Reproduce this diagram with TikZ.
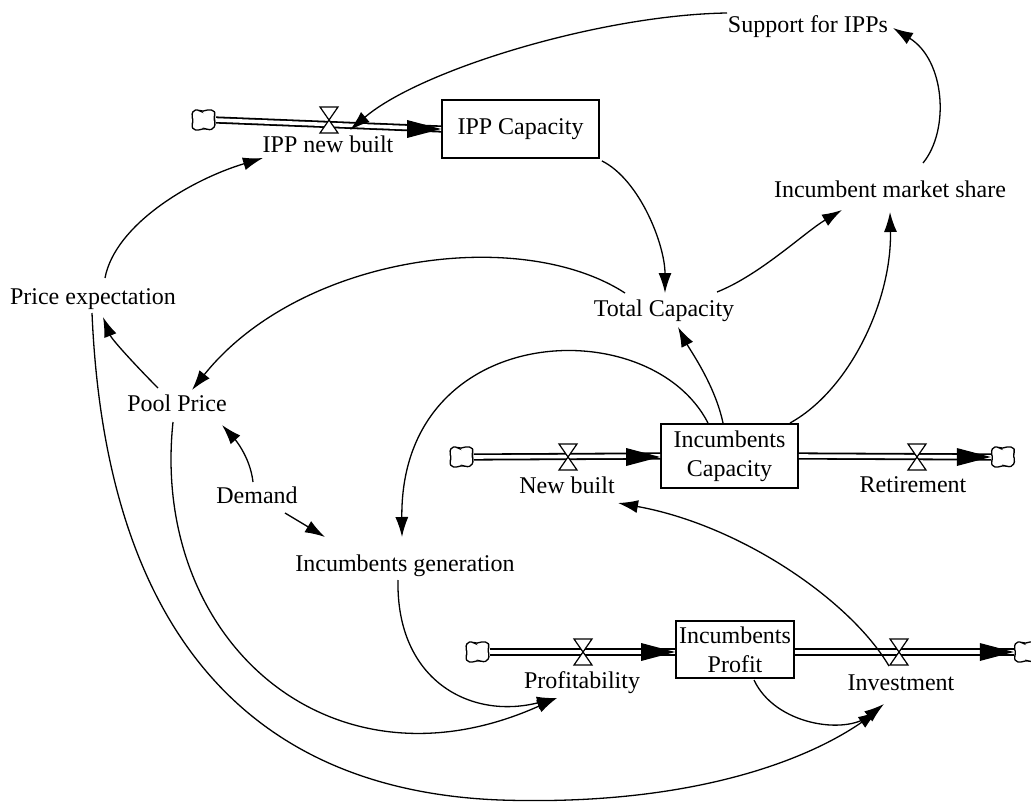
\documentclass[tikz,border=0pt]{standalone}
\usepackage{fontspec}
\setmainfont{Liberation Serif}
\usetikzlibrary{arrows.meta}

\begin{document}
\begin{tikzpicture}[x=1pt,y=-1pt,
  lbl/.style={font=\fontsize{24}{28}\selectfont, inner sep=1pt, text height=17pt, text depth=5pt},
  stock/.style={draw, line width=1.8pt, fill=white, inner sep=2pt, align=center,
                font=\fontsize{24}{29}\selectfont},
  conn/.style={line width=1.3pt, -{Latex[length=20pt,width=13pt]}},
  pipe/.style={double, line width=1.8pt, double distance=3.6pt},
  endpt/.style={inner sep=0pt, minimum width=24pt, minimum height=22pt},
  sourcecloud/.pic={
    \draw[line width=1.3pt, fill=white, rounded corners=2pt]
      (-10,-10) -- (-4,-10) -- (-2,-8) -- (2,-10) -- (10,-10) -- (12,-6) -- (10,-2)
      -- (12,3) -- (10,9) -- (4,10) -- (1,8) -- (-3,10) -- (-10,10) -- (-12,5)
      -- (-10,1) -- (-12,-4) -- cycle;
  },
  valve/.pic={
    \draw[line width=1.2pt, fill=white] (-9,-13) -- (9,-13) -- (0,0) -- cycle;
    \draw[line width=1.2pt, fill=white] (-9,13) -- (9,13) -- (0,0) -- cycle;
  },
  flowhead/.pic={
    \fill (0,0) -- (-34,-9) -- (-34,9) -- cycle;
  }
]
\fill[white] (0,0) rectangle (1031,805);
\useasboundingbox (0,0) rectangle (1031,805);
\clip (0,0) rectangle (1031,805);

% stocks
\node[stock, minimum width=157pt, minimum height=58pt] (ippbox) at (520.5,129) {IPP Capacity};
\node[stock, minimum width=137pt, minimum height=64pt] (inccap) at (729.5,456) {Incumbents\\Capacity};
\node[stock, minimum width=118pt, minimum height=57pt] (profit) at (735,649.5) {Incumbents\\Profit};

% sources and sinks
\node[endpt] (srcA) at (203.5,120) {};
\node[endpt] (srcB) at (461.5,457) {};
\node[endpt] (sinkB) at (1003,457) {};
\node[endpt] (srcC) at (477.5,652) {};
\node[endpt] (sinkC) at (1026,652) {};

% pipes
\draw[pipe] (srcA.east) -- (ippbox.west);
\draw[pipe] (srcB.east) -- (inccap.west);
\draw[pipe] (inccap.east) -- (sinkB.west);
\draw[pipe] (srcC.east) -- (profit.west |- srcC.east);
\draw[pipe] (profit.east |- sinkC.west) -- (sinkC.west);

\pic at (ippbox.west) {flowhead};
\pic at (inccap.west |- srcB) {flowhead};
\pic at (sinkB.west) {flowhead};
\pic at (profit.west |- srcC) {flowhead};
\pic at (sinkC.west) {flowhead};

\pic at (329,120) {valve};
\pic at (568,457) {valve};
\pic at (917,457) {valve};
\pic at (583,652) {valve};
\pic at (899,652) {valve};

\pic at (srcA) {sourcecloud};
\pic at (srcB) {sourcecloud};
\pic at (sinkB) {sourcecloud};
\pic at (srcC) {sourcecloud};
\pic at (sinkC) {sourcecloud};

% variables
\node[lbl] (support) at (808,27) {Support for IPPs};
\node[lbl] (marketshare) at (890,192) {Incumbent market share};
\node[lbl] (priceexp) at (93,298) {Price expectation};
\node[lbl] (totalcap) at (664,310) {Total Capacity};
\node[lbl] (poolprice) at (177,405) {Pool Price};
\node[lbl] (demand) at (257,497) {Demand};
\node[lbl] (incgen) at (405,565) {Incumbents generation};
\node[lbl] (ippnew) at (328,147) {IPP new built};
\node[lbl] (newbuilt) at (567,487) {New built};
\node[lbl] (retirement) at (913,486) {Retirement};
\node[lbl] (profitability) at (582,682) {Profitability};
\node[lbl] (investment) at (901,684) {Investment};

\coordinate (lowpass) at (500,800);

% causal links
\draw[conn] ([shift={(-81,-14)}]support.center) .. controls (600,15) and (420,70) .. ([shift={(22,-17)}]ippnew.center);
\draw[conn] ([shift={(33,-29)}]marketshare.center) .. controls (950,130) and (945,60) .. ([shift={(85,1)}]support.center);
\draw[conn] ([shift={(2,2)}]ippbox.south east) .. controls (640,180) and (665,245) .. ([shift={(1,-17)}]totalcap.center);
\draw[conn] ([shift={(53,-18)}]totalcap.center) .. controls (760,275) and (805,232) .. ([shift={(-48,18)}]marketshare.center);
\draw[conn] ([shift={(60.5,-33)}]inccap.center) .. controls (850,390) and (892,300) .. ([shift={(0,20)}]marketshare.center);
\draw[conn] ([shift={(-6.5,-33)}]inccap.center) .. controls (715,385) and (690,350) .. ([shift={(14,17)}]totalcap.center);
\draw[conn] ([shift={(-39,-17)}]totalcap.center) .. controls (520,225) and (300,255) .. ([shift={(15,-15)}]poolprice.center);
\draw[conn] ([shift={(-19,-17)}]poolprice.center) .. controls (140,370) and (112,340) .. ([shift={(10,19)}]priceexp.center);
\draw[conn] ([shift={(12,-20)}]priceexp.center) .. controls (115,225) and (190,180) .. ([shift={(-65,11)}]ippnew.center);
\draw[conn] ([shift={(-1,15)}]priceexp.center) .. controls (105,620) and (240,790) .. (lowpass)
            .. controls (680,806) and (800,765) .. ([shift={(-23,27)}]investment.center);
\draw[conn] ([shift={(-4,17)}]poolprice.center) .. controls (150,640) and (330,800) .. ([shift={(-25,16)}]profitability.center);
\draw[conn] ([shift={(-7,15)}]incgen.center) .. controls (396,680) and (470,720) .. ([shift={(-25,16)}]profitability.center);
\draw[conn] ([shift={(-21.5,-33)}]inccap.center) .. controls (650,310) and (400,320) .. ([shift={(-3,-28)}]incgen.center);
\draw[conn] ([shift={(-4,-15)}]demand.center) .. controls (250,455) and (232,436) .. ([shift={(45,20)}]poolprice.center);
\draw[conn] ([shift={(28,16)}]demand.center) -- ([shift={(-80,-28)}]incgen.center);
\draw[conn] ([shift={(-12,-18)}]investment.center) .. controls (850,600) and (740,525) .. ([shift={(51,16)}]newbuilt.center);
\draw[conn] ([shift={(19,30.5)}]profit.center) .. controls (775,725) and (845,735) .. ([shift={(-17,20)}]investment.center);
\end{tikzpicture}
\end{document}
